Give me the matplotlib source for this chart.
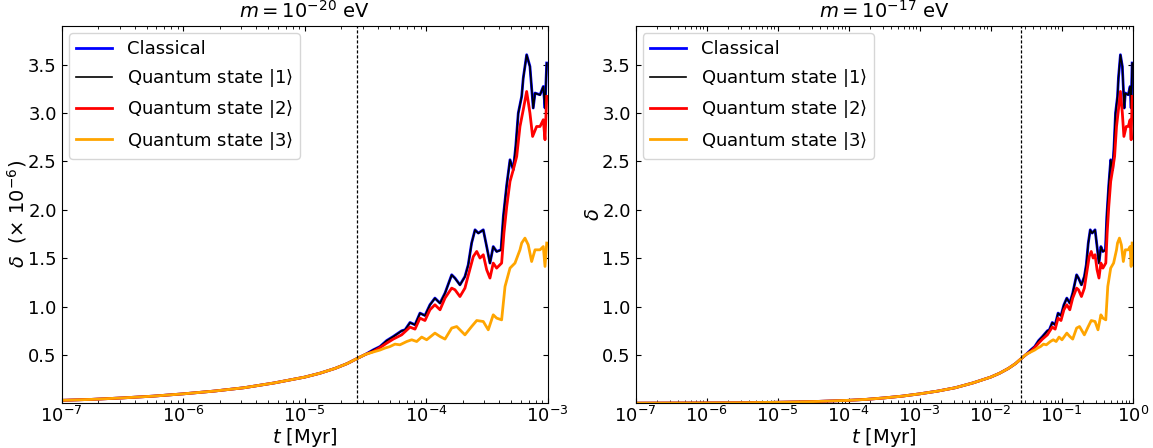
import numpy as np
import matplotlib
matplotlib.use("Agg")
import matplotlib.pyplot as plt

# log10(t / Myr) for the m = 1e-20 eV panel
logt_early = [-7.0, -6.75, -6.5, -6.25, -6.0, -5.75, -5.5, -5.25, -5.0, -4.875,
              -4.75, -4.65, -4.572, -4.5]
delta_early = [0.030, 0.040, 0.055, 0.073, 0.097, 0.125, 0.160, 0.210, 0.270, 0.310,
               0.360, 0.410, 0.460, 0.505]

# classical curve after the dashed line
logt_cl = [-4.435, -4.380, -4.325, -4.271, -4.202, -4.174, -4.133, -4.092, -4.051, -4.010,
           -3.969, -3.928, -3.886, -3.845, -3.790, -3.763, -3.722, -3.681, -3.654, -3.626,
           -3.598, -3.571, -3.530, -3.502, -3.475, -3.448, -3.420, -3.384, -3.365, -3.337,
           -3.310, -3.283, -3.263, -3.242, -3.214, -3.201, -3.173, -3.146, -3.119, -3.104,
           -3.063, -3.036, -3.022, -3.008]
delta_cl = [0.552, 0.586, 0.648, 0.690, 0.749, 0.759, 0.835, 0.811, 0.932, 0.907,
            1.018, 1.087, 1.035, 1.139, 1.328, 1.294, 1.224, 1.310, 1.431, 1.656,
            1.793, 1.759, 1.793, 1.620, 1.449, 1.620, 1.569, 1.586, 1.931, 2.259,
            2.517, 2.414, 2.655, 3.000, 3.172, 3.362, 3.603, 3.482, 3.052, 3.207,
            3.189, 3.275, 3.052, 3.517]
# state |1> lies on top of the classical curve
delta_q1 = [0.550, 0.585, 0.646, 0.688, 0.748, 0.757, 0.833, 0.810, 0.930, 0.905,
            1.016, 1.085, 1.033, 1.137, 1.326, 1.292, 1.222, 1.308, 1.429, 1.654,
            1.791, 1.757, 1.791, 1.618, 1.447, 1.618, 1.567, 1.584, 1.929, 2.257,
            2.515, 2.412, 2.653, 2.998, 3.170, 3.360, 3.601, 3.480, 3.050, 3.205,
            3.187, 3.273, 3.050, 3.515]

logt_q2 = [-4.435, -4.380, -4.325, -4.271, -4.202, -4.133, -4.092, -4.051, -4.010, -3.969,
           -3.928, -3.886, -3.845, -3.790, -3.763, -3.722, -3.681, -3.654, -3.612, -3.584,
           -3.557, -3.530, -3.502, -3.475, -3.448, -3.420, -3.379, -3.360, -3.337, -3.310,
           -3.283, -3.255, -3.228, -3.201, -3.173, -3.146, -3.124, -3.091, -3.063, -3.036,
           -3.022, -3.008]
delta_q2 = [0.535, 0.575, 0.621, 0.663, 0.707, 0.787, 0.766, 0.880, 0.855, 0.966,
            1.018, 0.966, 1.087, 1.190, 1.173, 1.103, 1.190, 1.320, 1.517, 1.569,
            1.501, 1.535, 1.380, 1.294, 1.449, 1.397, 1.449, 1.759, 2.034, 2.293,
            2.414, 2.551, 2.861, 3.034, 3.223, 3.000, 2.758, 2.861, 2.861, 2.931,
            2.724, 3.172]

logt_q3 = [-4.435, -4.380, -4.340, -4.298, -4.257, -4.216, -4.160, -4.119, -4.078, -4.037,
           -3.996, -3.928, -3.886, -3.845, -3.790, -3.749, -3.681, -3.626, -3.584, -3.530,
           -3.489, -3.448, -3.420, -3.379, -3.351, -3.310, -3.269, -3.228, -3.214, -3.187,
           -3.160, -3.132, -3.104, -3.063, -3.036, -3.022, -3.008]
delta_q3 = [0.530, 0.550, 0.570, 0.586, 0.611, 0.604, 0.638, 0.656, 0.638, 0.684,
            0.656, 0.725, 0.690, 0.663, 0.777, 0.793, 0.707, 0.793, 0.855, 0.845,
            0.759, 0.914, 0.880, 0.862, 1.207, 1.397, 1.449, 1.586, 1.656, 1.707,
            1.638, 1.465, 1.586, 1.586, 1.620, 1.414, 1.656]

# extra early points visible only in the m = 1e-17 eV panel
logt_pre = [-10.0, -9.5, -9.0, -8.5, -8.0, -7.5]
delta_pre = [0.001, 0.002, 0.003, 0.005, 0.010, 0.017]

t_dash = 2.7e-5
titles = [r"$m = 10^{-20}$ eV", r"$m = 10^{-17}$ eV"]
ylabels = [r"$\delta$  ($\times$ $10^{-6}$)", r"$\delta$"]
xlims = [(1e-7, 1e-3), (1e-7, 1e0)]
shifts = [0.0, 3.0]


def series(logt, delta, shift, pre):
    lt = list(logt_early) + list(logt)
    d = list(delta_early) + list(delta)
    if pre:
        lt = list(logt_pre) + lt
        d = list(delta_pre) + d
    return 10 ** (np.array(lt) + shift), np.array(d)


plt.rcParams["font.family"] = "DejaVu Sans"
fig = plt.figure(figsize=(11.53, 4.48), dpi=100)
axes = [fig.add_axes([0.0535, 0.101, 0.4215, 0.841]),
        fig.add_axes([0.5513, 0.101, 0.4311, 0.841])]

for i, ax in enumerate(axes):
    s = shifts[i]
    pre = i == 1
    t, d = series(logt_cl, delta_cl, s, pre)
    ax.plot(t, d, color="blue", lw=2.0, label="Classical")
    t, d = series(logt_cl, delta_q1, s, pre)
    ax.plot(t, d, color="black", lw=1.2, label=r"Quantum state $|1\rangle$")
    t, d = series(logt_q2, delta_q2, s, pre)
    ax.plot(t, d, color="red", lw=2.0, label=r"Quantum state $|2\rangle$")
    t, d = series(logt_q3, delta_q3, s, pre)
    ax.plot(t, d, color="orange", lw=2.0, label=r"Quantum state $|3\rangle$")

    ax.axvline(t_dash * 10 ** s, color="black", lw=0.9, ls=(0, (2.5, 1.5)))
    ax.set_xscale("log")
    ax.set_xlim(*xlims[i])
    ax.set_ylim(0.005, 3.9)
    ax.set_yticks([0.5, 1.0, 1.5, 2.0, 2.5, 3.0, 3.5])
    ax.tick_params(which="both", direction="in", top=True, right=True, labelsize=13)
    ax.tick_params(axis="x", pad=2)
    ax.set_title(titles[i], fontsize=14)
    ax.set_xlabel(r"$t$ [Myr]", fontsize=14, labelpad=0)
    ax.set_ylabel(ylabels[i], fontsize=14, labelpad=-1)
    ax.legend(loc="upper left", fontsize=13, handlelength=2.0, borderaxespad=0.4)

fig.savefig("out.png", dpi=100)
